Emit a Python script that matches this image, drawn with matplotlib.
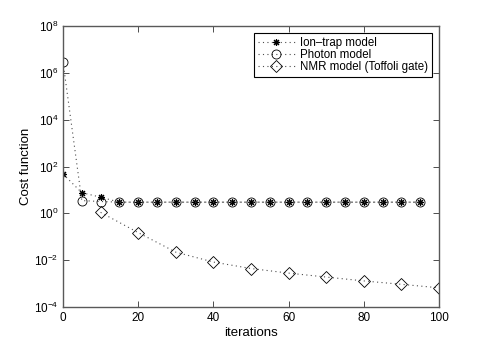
import matplotlib
matplotlib.use('Agg')
import matplotlib.pyplot as plt

plt.rcParams['font.family'] = ['Liberation Sans', 'DejaVu Sans']
plt.rcParams['mathtext.fontset'] = 'custom'
plt.rcParams['mathtext.rm'] = 'Liberation Sans'

# data
ion_x = [0, 5, 10, 15, 20, 25, 30, 35, 40, 45, 50, 55, 60, 65, 70, 75, 80, 85, 90, 95]
ion_y = [48, 7.6, 4.9, 3.0, 3.0, 3.0, 3.0, 3.0, 3.0, 3.0, 3.0, 3.0, 3.0, 3.0, 3.0, 3.0, 3.0, 3.0, 3.0, 3.0]
photon_x = [0, 5, 10, 15, 20, 25, 30, 35, 40, 45, 50, 55, 60, 65, 70, 75, 80, 85, 90, 95]
photon_y = [2.9e6, 3.5, 3.2, 3.0, 3.0, 3.0, 3.0, 3.0, 3.0, 3.0, 3.0, 3.0, 3.0, 3.0, 3.0, 3.0, 3.0, 3.0, 3.0, 3.0]
nmr_x = [10, 20, 30, 40, 50, 60, 70, 80, 90, 100]
nmr_y = [1.1, 0.15, 0.022, 0.0083, 0.0044, 0.0028, 0.0019, 0.0013, 0.00093, 0.00066]

labels = ['Ion\u2013trap model', 'Photon model', 'NMR model (Toffoli gate)']
x_ticks = [0, 20, 40, 60, 80, 100]
y_ticks = [1e-4, 1e-2, 1e0, 1e2, 1e4, 1e6, 1e8]

fig = plt.figure(figsize=(4.85, 3.46), dpi=100)
ax = fig.add_axes([63 / 485, 1 - 307 / 346, (439 - 63) / 485, (307 - 26) / 346])

dots = (0, (1, 3))
ax.semilogy(ion_x, ion_y, linestyle=dots, color='0.3', lw=0.8, marker=(8, 2, 0), ms=5,
            mec='k', mew=0.8, label=labels[0])
ax.semilogy(photon_x, photon_y, linestyle=dots, color='0.3', lw=0.8, marker='o', ms=6.5,
            mfc='none', mec='k', mew=0.6, label=labels[1])
ax.semilogy(nmr_x, nmr_y, linestyle=dots, color='0.3', lw=0.8, marker='D', ms=6,
            mfc='none', mec='k', mew=0.6, label=labels[2])

ax.set_xlim(0, 100)
ax.set_ylim(1e-4, 1e8)
ax.set_xticks(x_ticks)
ax.set_yticks(y_ticks)
ax.minorticks_off()
ax.tick_params(direction='in', top=True, right=True, labelsize=8.5, length=4,
               width=0.7, color='0.3')
for s in ax.spines.values():
    s.set_linewidth(1.0)
    s.set_color('0.35')
ax.set_xlabel('iterations', fontsize=9.5, labelpad=2)
ax.set_ylabel('Cost function', fontsize=9.5, labelpad=1)

leg = ax.legend(loc='upper right', fontsize=8.3, fancybox=False, edgecolor='k',
                framealpha=1, borderaxespad=0.6, handlelength=3.2,
                labelspacing=0.0, borderpad=0.35, handletextpad=0.45)
leg.get_frame().set_linewidth(0.8)

fig.savefig('out.png', dpi=100)
